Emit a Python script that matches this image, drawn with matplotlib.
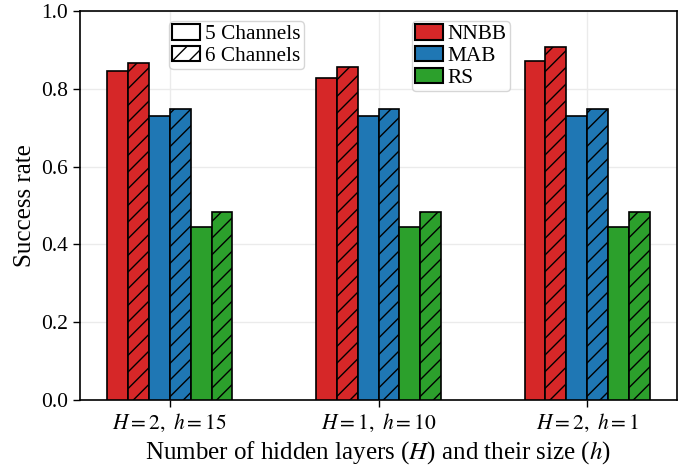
import numpy as np
import matplotlib
matplotlib.use("Agg")
import matplotlib.pyplot as plt
from matplotlib.patches import Patch

plt.rcParams["font.family"] = ["Liberation Serif", "DejaVu Serif"]
plt.rcParams["mathtext.fontset"] = "stix"
plt.rcParams["hatch.linewidth"] = 1.0

groups = [r"$H=2,\ h=15$", r"$H=1,\ h=10$", r"$H=2,\ h=1$"]
methods = ["NNBB", "MAB", "RS"]
colors = ["#d62728", "#1f77b4", "#2ca02c"]

# success rate per method, one value per configuration
rate_5ch = {
    "NNBB": [0.847, 0.829, 0.872],
    "MAB": [0.730, 0.730, 0.731],
    "RS": [0.446, 0.446, 0.446],
}
rate_6ch = {
    "NNBB": [0.867, 0.857, 0.908],
    "MAB": [0.747, 0.747, 0.748],
    "RS": [0.483, 0.483, 0.483],
}

fig = plt.figure(figsize=(6.99, 4.66), dpi=100)
ax = fig.add_axes([80 / 699, 66 / 466, 597 / 699, 389 / 466])

x = np.arange(len(groups))
w = 0.1
for i, (m, c) in enumerate(zip(methods, colors)):
    off5 = (-2.5 + 2 * i) * w
    off6 = (-1.5 + 2 * i) * w
    ax.bar(x + off5, rate_5ch[m], w, color=c, edgecolor="black", linewidth=1.2, zorder=3)
    ax.bar(x + off6, rate_6ch[m], w, color=c, edgecolor="black", linewidth=1.2,
           hatch="//", zorder=3)

ax.set_ylim(0, 1.0)
ax.set_xticks(x)
ax.set_xticklabels(groups, fontsize=15.5)
ax.set_yticks(np.arange(0, 1.01, 0.2))
ax.set_yticklabels([f"{v:.1f}" for v in np.arange(0, 1.01, 0.2)], fontsize=15.5)
ax.tick_params(axis="both", direction="out", length=5, width=1.0)
ax.grid(True, color="#ebebeb", linewidth=1.0, zorder=0)
ax.set_axisbelow(True)
for s in ax.spines.values():
    s.set_linewidth(1.2)

ax.set_ylabel("Success rate", fontsize=18)
ax.set_xlabel(r"Number of hidden layers ($H$) and their size ($h$)", fontsize=18)

leg_kw = dict(fontsize=15.3, loc="upper left", borderaxespad=0, labelspacing=0.08,
              handlelength=1.3, handleheight=0.72, handletextpad=0.25, borderpad=0.15,
              fancybox=True, framealpha=0.8, edgecolor="#cccccc")

ch_handles = [Patch(facecolor="white", edgecolor="black", linewidth=1.5, label="5 Channels"),
              Patch(facecolor="white", edgecolor="black", linewidth=1.5, hatch="//",
                    label="6 Channels")]
leg1 = ax.legend(handles=ch_handles, bbox_to_anchor=(169.3 / 699, 1 - 21.3 / 466),
                 bbox_transform=fig.transFigure, **leg_kw)
ax.add_artist(leg1)

m_handles = [Patch(facecolor=c, edgecolor="black", linewidth=1.5, label=m)
             for m, c in zip(methods, colors)]
ax.legend(handles=m_handles, bbox_to_anchor=(411.7 / 699, 1 - 21.3 / 466),
          bbox_transform=fig.transFigure, **leg_kw)

fig.savefig("out.png", dpi=100)
